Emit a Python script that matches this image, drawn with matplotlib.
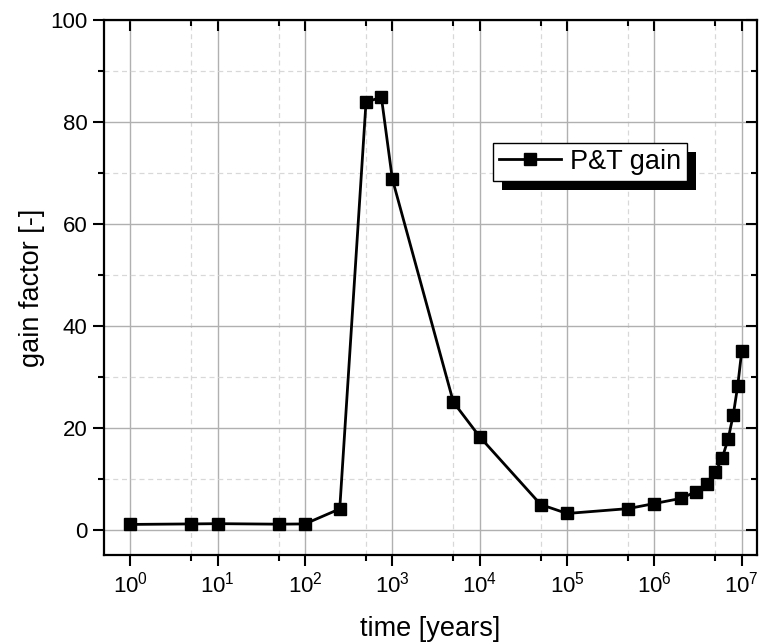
import matplotlib
matplotlib.use("Agg")
import matplotlib.pyplot as plt
import matplotlib.lines as mlines
from matplotlib.patches import Rectangle
from matplotlib.ticker import LogLocator, MultipleLocator, FixedLocator, NullFormatter

plt.rcParams['font.family'] = ['Liberation Sans', 'DejaVu Sans']
plt.rcParams['mathtext.fontset'] = 'custom'
plt.rcParams['mathtext.rm'] = 'Liberation Sans'

# datos
time_years = [1, 5, 10, 50, 100, 250, 500, 750, 1000, 5000, 1e4, 5e4, 1e5,
              5e5, 1e6, 2e6, 3e6, 4e6, 5e6, 6e6, 7e6, 8e6, 9e6, 1e7]
gain = [1.0, 1.1, 1.15, 1.05, 1.1, 4.05, 83.9, 84.8, 68.8, 25.0, 18.2, 4.9, 3.15,
        4.1, 5.1, 6.1, 7.4, 9.0, 11.2, 14.1, 17.8, 22.5, 28.2, 35.0]
minor_x = [5 * 10**k for k in range(0, 7)]

fig = plt.figure(figsize=(7.59, 6.42), dpi=100)
ax = fig.add_axes([0.137, 0.1355, 0.8605, 0.8335])

ax.plot(time_years, gain, color='black', lw=2, marker='s', ms=9,
        markerfacecolor='black', markeredgecolor='black', label='P&T gain', zorder=3)

ax.set_xscale('log')
ax.set_xlim(0.5, 1.5e7)
ax.set_ylim(-5, 100)

ax.xaxis.set_major_locator(LogLocator(base=10, numticks=20))
ax.xaxis.set_minor_locator(FixedLocator(minor_x))
ax.xaxis.set_minor_formatter(NullFormatter())
ax.yaxis.set_major_locator(MultipleLocator(20))
ax.yaxis.set_minor_locator(MultipleLocator(10))

# rejilla
ax.grid(which='major', color='#b0b0b0', lw=1.0, ls='-')
ax.grid(which='minor', color='#d8d8d8', lw=0.9, ls=(0, (4, 3)))
ax.set_axisbelow(True)

for s in ax.spines.values():
    s.set_linewidth(1.6)

ax.tick_params(which='both', direction='out', width=1.5, labelsize=16, colors='black',
               top=True, right=True, labeltop=False, labelright=False)
ax.tick_params(which='major', length=8, pad=4)
ax.tick_params(which='minor', length=4)

# ticks de arriba y derecha hacia dentro
fig.canvas.draw()
for t in ax.xaxis.get_major_ticks() + ax.xaxis.get_minor_ticks():
    t.tick2line.set_marker(mlines.TICKDOWN)
for t in ax.yaxis.get_major_ticks() + ax.yaxis.get_minor_ticks():
    t.tick2line.set_marker(mlines.TICKLEFT)

ax.set_xlabel('time [years]', fontsize=19.5, labelpad=13)
ax.set_ylabel('gain factor [-]', fontsize=19.5, labelpad=4)

leg = ax.legend(loc='upper left', bbox_to_anchor=(0.596, 0.77), fontsize=19.5,
                frameon=True, fancybox=False, edgecolor='black', framealpha=1,
                handlelength=2.3, handletextpad=0.3, borderpad=0.22,
                borderaxespad=0)
leg.get_frame().set_linewidth(1.0)

# sombra de la leyenda
fig.canvas.draw()
bb = leg.get_frame().get_window_extent()
inv = fig.transFigure.inverted()
(x0, y0), (x1, y1) = inv.transform([[bb.x0 + 9, bb.y0 - 9], [bb.x1 + 9, bb.y1 - 9]])
fig.patches.append(Rectangle((x0, y0), x1 - x0, y1 - y0, transform=fig.transFigure,
                             facecolor='black', edgecolor='none', zorder=5))
# la leyenda tiene que ir encima de la sombra
leg.remove()
fig.legends.append(leg)
leg.set_figure(fig)

ax.xaxis.set_minor_locator(FixedLocator(minor_x))
fig.savefig('out.png', dpi=100)
